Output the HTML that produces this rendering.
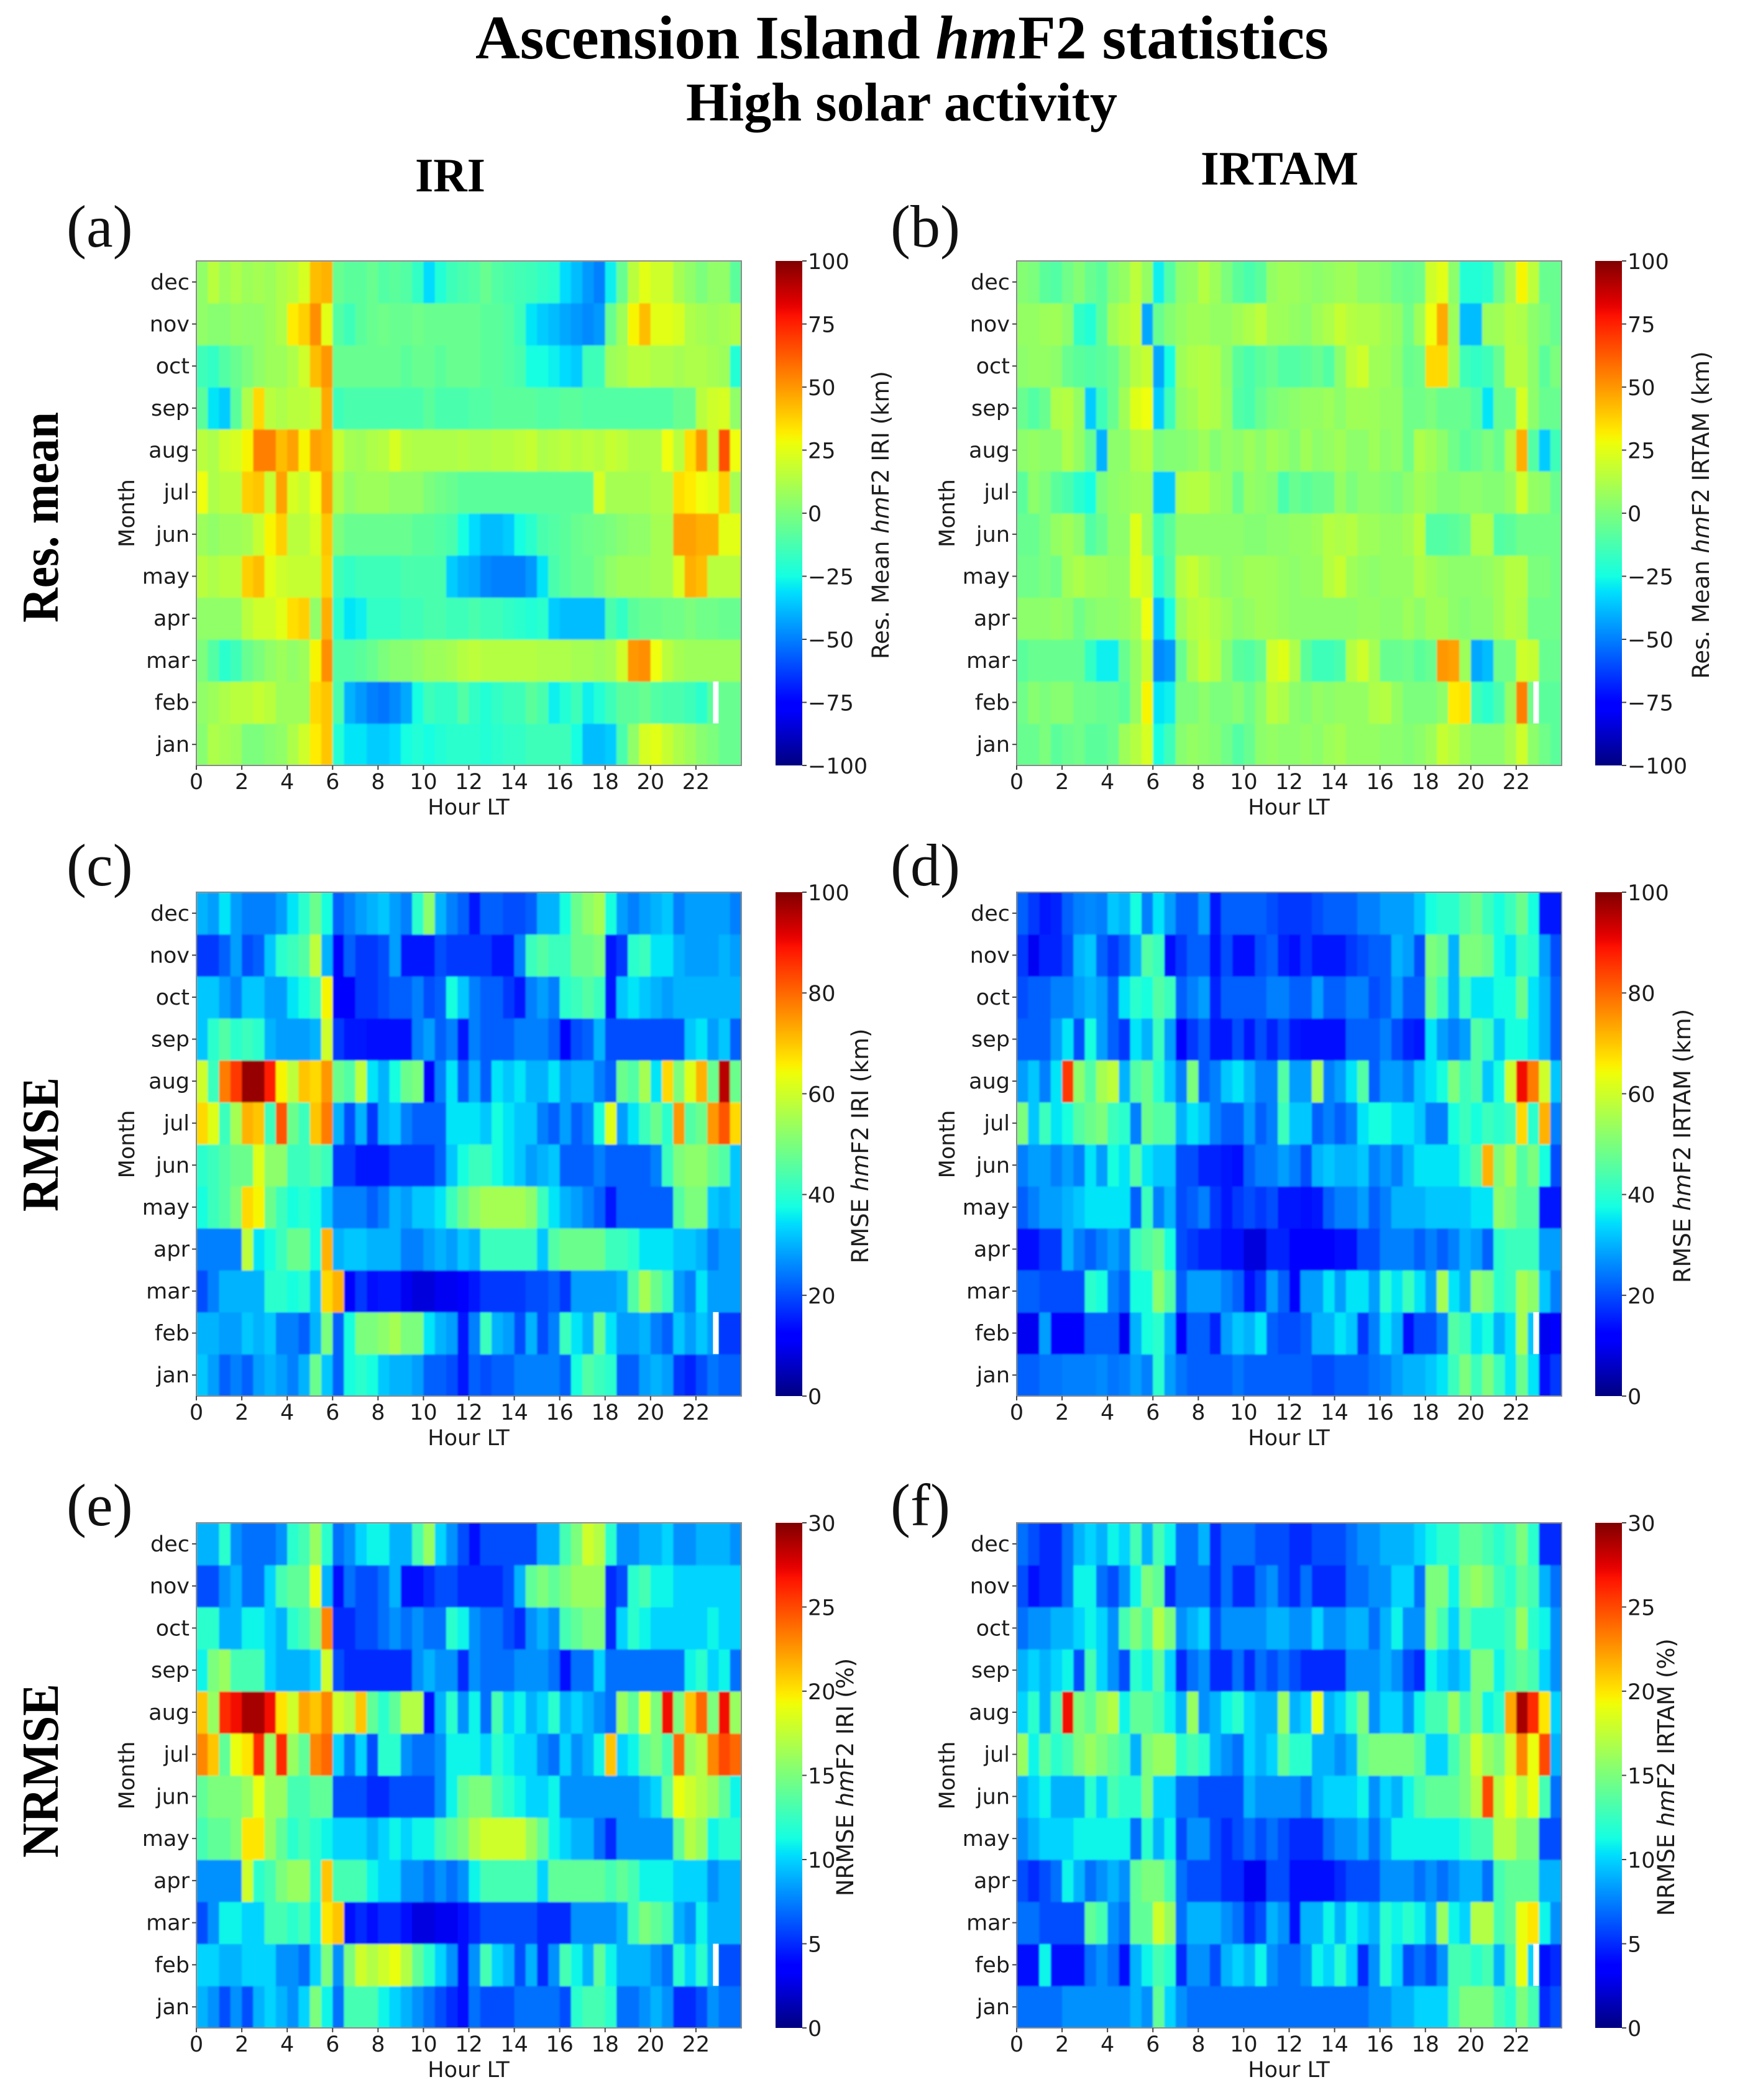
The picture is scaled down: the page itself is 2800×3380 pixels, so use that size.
<!DOCTYPE html>
<html lang="en">
<head>
<meta charset="utf-8">
<title>Ascension Island hmF2 statistics</title>
<style>
html,body{margin:0;padding:0;background:#fff;}
#figure{display:block;width:2800px;height:3380px;}
.ttl{font-family:"Liberation Serif",serif;font-weight:bold;fill:#000;}
.tick{font-family:"DejaVu Sans",sans-serif;font-size:35px;fill:#1c1c1c;}
.plabel{font-family:"Liberation Serif",serif;font-size:96px;fill:#111;}
</style>
</head>
<body>
<svg id="figure" xmlns="http://www.w3.org/2000/svg" width="2800" height="3380" viewBox="0 0 2800 3380">
<rect x="0" y="0" width="2800" height="3380" fill="#fff"/>
<text class="ttl" x="765" y="94" font-size="100" textLength="1373" lengthAdjust="spacingAndGlyphs">Ascension Island <tspan font-style="italic">hm</tspan>F2 statistics</text>
<text class="ttl" x="1104" y="194" font-size="88" textLength="694" lengthAdjust="spacingAndGlyphs">High solar activity</text>
<text class="ttl" x="668" y="308" font-size="77" textLength="113" lengthAdjust="spacingAndGlyphs">IRI</text>
<text class="ttl" x="1932" y="297" font-size="77" textLength="254" lengthAdjust="spacingAndGlyphs">IRTAM</text>
<text class="ttl" transform="translate(93,1002) rotate(-90)" font-size="84" textLength="339" lengthAdjust="spacingAndGlyphs">Res. mean</text>
<text class="ttl" transform="translate(93,1950) rotate(-90)" font-size="84" textLength="216" lengthAdjust="spacingAndGlyphs">RMSE</text>
<text class="ttl" transform="translate(93,2990) rotate(-90)" font-size="84" textLength="280" lengthAdjust="spacingAndGlyphs">NRMSE</text>
<g id="plots"></g>
</svg>
<script>
// Shared axis data
const monthLabels = ['jan','feb','mar','apr','may','jun','jul','aug','sep','oct','nov','dec'];
const hourTicks = [0,2,4,6,8,10,12,14,16,18,20,22];
const resMeanTicks = [-100,-75,-50,-25,0,25,50,75,100];
const rmseTicks = [0,20,40,60,80,100];
const nrmseTicks = [0,5,10,15,20,25,30];
const hoursPerBin = 0.5;
const missingMonth = 'feb';
const missingHour = 22.75;
const missingWidthHours = 0.25;

// Values per month (jan..dec), 48 half-hour bins
const panelAValues = [
[3,12,10,8,0,0, 3,5,12,20,32,40, -22,-30,-30,-35,-35,-32, -25,-22,-25,-22,-20,-20, -20,-22,-20,-18,-18,-15, -15,-15,-15,-25,-38,-38, -35,-12,5,22,25,18, 12,8,3,0,-5,-5],
[5,8,12,15,15,18, 15,8,8,8,36,40, -12,-40,-45,-50,-52,-48, -42,-25,-15,-18,-18,-10, -18,-22,-18,-15,-15,-8, -12,-28,-22,-15,-28,-22, -15,-8,-8,-5,-10,-12, -12,-15,-20,-8,-5,-5],
[0,-10,-20,-15,-5,0, 5,8,5,8,30,52, -10,-10,-8,-5,0,3, 3,5,8,8,10,14, 16,14,14,14,14,14, 12,12,12,10,10,8, 10,20,50,52,28,15, 10,8,8,8,8,8],
[5,5,5,5,15,20, 20,25,35,38,5,45, -20,-30,-28,-18,-18,-18, -15,-15,-12,-12,-15,-15, -12,-15,-15,-18,-20,-22, -20,-35,-38,-38,-38,-38, -12,-18,-8,-5,-5,-3, -3,0,-3,-3,-5,-5],
[15,12,15,15,38,42, 25,20,18,18,18,38, -15,-18,-15,-15,-15,-15, -12,-12,-12,-12,-35,-40, -42,-48,-50,-50,-50,-45, -30,-12,-8,-5,-5,0, 5,8,8,8,10,10, 22,45,42,15,15,15],
[8,5,8,8,10,18, 30,38,15,15,22,40, 0,-5,-5,-5,-5,-5, -5,-8,-8,-10,-12,-25, -32,-38,-38,-35,-25,-20, -12,-10,-8,-5,-3,-2, 0,3,5,5,10,10, 48,48,45,45,25,25],
[28,12,15,15,38,40, 18,48,22,18,28,48, 12,5,8,8,8,5, 5,5,0,-3,-5,-8, -8,-8,-8,-8,-8,-8, -8,-8,-8,-8,-8,22, 10,10,10,10,12,12, 35,32,28,25,38,10],
[15,12,20,22,30,55, 55,42,48,30,48,45, 18,10,9,12,14,22, 14,12,12,12,12,14, 12,12,14,14,16,18, 12,14,16,14,16,14, 18,16,12,12,12,28, 15,35,50,18,65,28],
[-8,-30,-35,-8,12,36, 15,12,15,15,18,46, -15,-12,-12,-12,-12,-12, -12,-12,-8,-12,-12,-12, -10,-10,-8,-8,-8,-8, -10,-10,-8,-8,-10,-10, -10,-10,-10,-10,-10,-10, -5,-5,15,20,22,5],
[-15,-18,-10,-5,0,5, 8,8,12,20,42,50, -5,-5,-5,-5,-5,-5, -8,-5,-5,-8,-5,-5, -5,-8,-8,-10,-12,-25, -25,-28,-32,-35,-15,-15, 8,10,15,15,12,12, 10,12,12,10,8,-22],
[5,3,3,6,5,5, 8,12,32,38,52,25, -10,-15,-8,-5,-3,-5, -5,-3,-5,-5,-5,-5, -5,-8,-8,-10,-15,-30, -35,-38,-42,-45,-48,-45, -5,8,30,42,25,25, 22,12,10,8,10,12],
[5,15,8,12,8,10, 8,12,15,22,42,44, -5,-8,-8,-5,-10,-8, -10,-18,-32,-22,-15,-12, -10,-5,-10,-12,-14,-15, -18,-20,-32,-38,-45,-50, -28,-5,15,25,20,20, 10,5,0,5,5,-8]
];
const panelBValues = [
[-5,-5,0,-8,-5,-3, -8,-8,-5,8,14,22, -25,-15,3,6,4,2, -3,-10,-5,4,6,4, 4,6,4,8,10,6, 6,6,4,4,2,4, 8,18,14,8,4,4, 4,10,20,4,-3,-8],
[-3,3,0,3,3,-3, -3,-5,-5,-8,6,30, -30,-28,0,0,4,0, 0,3,-3,4,15,12, 4,2,6,4,6,6, 6,12,14,6,0,0, 0,4,32,34,-15,-20, -12,6,55,-3,-8,-8],
[-8,-5,-5,-5,-5,-5, -18,-28,-28,-5,6,18, -48,-45,-5,10,18,14, 2,-8,-10,-5,20,24, 12,-8,-15,-15,-12,14, 20,10,-5,-5,-3,-8, -5,50,48,8,-42,-38, -3,-3,20,18,-5,-5],
[4,4,4,6,4,-3, 2,4,4,6,10,28, -38,-25,8,14,16,12, 9,4,6,9,8,6, 4,4,4,4,4,4, 6,6,4,4,8,4, 9,9,4,2,4,4, 9,14,12,-3,-3,-3],
[-3,-3,0,-3,9,12, 9,8,6,6,24,20, -20,-10,14,18,12,8, 4,6,9,9,8,6, 4,6,6,14,18,9, 6,4,6,6,6,12, 9,6,4,4,4,6, 9,14,14,0,0,-3],
[-5,-5,0,6,9,4, -10,-5,4,4,24,8, -15,-8,4,4,4,4, 4,4,2,2,4,4, 6,6,8,14,12,14, 9,8,6,6,9,15, -10,-10,-8,-5,12,12, -10,-8,-3,-3,-3,-3],
[-8,4,0,-8,-12,-20, -25,0,4,6,8,9, -35,-35,12,14,14,8, 6,-5,6,4,2,-12, -5,-8,-5,-5,6,0, 4,4,2,0,4,9, 6,2,2,4,4,2, 2,6,20,6,4,-5],
[4,6,4,4,12,6, -5,-40,4,4,12,14, 0,2,2,4,8,2, 6,4,8,4,9,6, 2,9,4,6,9,4, 4,8,4,6,-3,12, 9,4,-3,-8,-5,0, -5,12,45,-10,-35,-15],
[-5,-10,-5,12,14,6, -35,-15,-5,9,24,28, -35,-15,6,9,14,12, 6,-10,-12,-5,0,2, 4,6,6,8,4,9, 9,8,6,6,-3,-3, 0,-5,-5,-5,-10,-30, -5,-5,22,4,-5,-5],
[4,6,6,4,-5,-8, -10,-8,-5,4,14,18, -42,-25,9,12,14,12, 4,-8,-12,-8,-5,-10, -10,-8,-5,-10,4,16, 20,9,8,4,-5,-3, 36,36,9,-15,-18,-15, -5,14,14,4,-8,0],
[6,6,8,9,4,-18, -22,-8,9,14,18,-42, -5,2,6,9,9,6, 6,9,12,16,9,8, 6,4,9,12,18,14, 12,12,9,6,-3,9, 28,46,8,-38,-38,8, 9,14,12,4,0,-5],
[2,0,-8,-10,-3,2, -5,-8,2,6,16,6, -28,-10,4,6,14,8, 0,-8,-12,-8,6,9, 8,6,4,6,8,9, 4,4,2,-3,-5,-3, 20,25,4,-22,-22,-20, -5,9,30,16,-5,-5]
];
const panelCValues = [
[32,28,22,25,22,28, 30,28,25,30,48,32, 22,38,40,38,32,30, 30,28,22,22,20,15, 22,20,22,22,25,25, 25,25,22,38,45,42, 40,22,22,28,30,28, 18,16,20,24,22,22],
[30,30,28,28,32,30, 32,25,25,22,30,50, 22,38,50,50,52,55, 50,50,35,30,28,15, 25,42,30,28,20,30, 20,25,42,35,30,48, 35,28,28,30,25,22, 32,28,32,28,18,18],
[20,25,30,30,30,30, 40,40,38,40,32,68, 72,12,18,14,15,15, 10,8,8,10,10,12, 15,18,18,18,18,20, 20,22,18,28,28,28, 28,30,45,55,48,42, 28,25,35,28,28,28],
[25,25,25,25,58,35, 38,42,48,48,38,72, 30,32,32,30,30,30, 25,25,28,30,28,32, 30,42,42,42,42,42, 32,45,48,48,48,48, 42,42,40,35,35,35, 32,32,30,25,28,28],
[38,42,45,50,68,65, 48,42,38,40,38,32, 25,25,25,22,25,30, 28,32,32,35,42,48, 52,55,55,55,55,52, 42,35,30,28,25,22, 15,22,22,22,22,22, 45,50,50,32,30,32],
[40,42,45,48,48,62, 52,52,42,42,45,42, 18,18,15,15,15,18, 18,18,18,22,32,38, 42,42,38,35,32,28, 30,32,22,22,22,25, 22,22,22,22,25,42, 50,52,52,48,45,32],
[68,62,42,55,72,70, 42,82,48,42,70,78, 30,20,30,18,30,32, 25,22,22,22,35,35, 35,32,38,35,32,32, 25,22,28,22,25,38, 62,28,35,42,48,40, 75,45,48,75,82,68],
[60,42,78,85,98,98, 88,65,58,70,68,75, 48,45,58,35,30,38, 48,50,12,25,35,22, 30,22,35,32,35,30, 30,35,28,30,30,25, 22,48,45,55,35,68, 50,62,72,48,95,48],
[32,40,45,40,42,40, 30,28,28,28,30,60, 18,15,15,14,14,14, 14,25,28,22,25,15, 25,22,22,22,25,25, 25,22,12,20,22,30, 20,20,20,20,20,20, 20,32,35,28,32,22],
[32,32,28,25,32,32, 28,28,35,38,42,65, 12,12,18,18,20,22, 22,25,20,22,38,32, 25,22,22,18,15,25, 28,25,40,42,45,42, 15,32,35,32,30,28, 30,30,30,30,30,30],
[18,18,22,28,20,22, 32,40,42,45,58,30, 12,22,18,18,20,28, 15,15,15,20,18,18, 18,18,15,15,25,42, 45,42,42,48,48,50, 15,18,40,42,35,35, 30,28,28,28,30,28],
[30,28,35,28,25,25, 25,28,35,40,48,38, 22,25,28,30,32,28, 25,40,52,30,25,22, 15,22,22,20,20,22, 30,30,38,48,52,55, 38,28,25,28,30,32, 25,28,28,28,28,25]
];
const panelDValues = [
[22,22,24,24,25,25, 25,26,24,25,28,25, 40,28,24,22,22,22, 22,24,22,22,22,22, 22,22,20,20,22,22, 22,24,25,28,30,30, 32,35,42,50,42,50, 42,35,48,35,14,18],
[10,10,28,12,12,12, 22,22,22,10,30,38, 40,30,12,22,22,16, 28,32,30,35,22,20, 20,22,30,30,35,32, 18,25,35,30,14,20, 20,25,45,42,35,38, 30,35,55,32,10,12],
[22,22,20,20,20,20, 40,38,25,22,38,38, 52,45,22,28,28,28, 25,22,14,18,28,22, 12,28,28,35,28,35, 35,28,40,35,42,35, 28,55,35,30,52,50, 40,42,55,52,32,25],
[14,14,18,18,30,25, 22,25,28,25,42,45, 48,38,20,18,16,16, 14,14,8,8,16,16, 12,12,12,12,14,14, 20,20,25,25,25,22, 25,22,25,30,28,22, 40,42,42,42,28,28],
[22,25,28,28,30,32, 35,35,35,35,22,42, 25,30,20,22,25,18, 15,18,20,18,20,15, 15,14,15,22,25,25, 28,22,25,30,30,30, 32,32,32,32,35,35, 52,50,45,45,15,15],
[25,28,28,25,28,25, 35,28,38,35,45,35, 32,32,20,20,16,16, 15,14,22,25,25,28, 25,20,30,32,30,30, 32,25,28,25,30,35, 35,35,35,40,45,72, 50,55,45,50,38,20],
[50,32,42,35,38,45, 48,50,42,40,25,48, 45,45,30,35,32,25, 22,22,28,22,25,42, 32,32,22,25,22,25, 35,38,38,35,35,32, 25,25,38,42,38,42, 40,42,68,40,72,25],
[28,32,25,35,85,52, 45,55,58,30,45,48, 40,32,25,50,22,25, 32,35,30,25,25,45, 28,28,55,25,28,35, 45,22,28,28,25,32, 35,38,50,42,45,32, 38,60,90,78,60,32],
[22,22,22,28,35,20, 38,28,22,18,35,30, 42,28,12,18,22,15, 15,20,15,20,16,20, 15,14,14,14,14,22, 22,22,25,20,16,15, 35,28,25,28,45,42, 32,38,38,35,30,22],
[20,22,22,25,25,28, 30,28,22,35,40,38, 45,42,22,25,28,16, 22,22,22,22,25,25, 22,22,28,22,22,25, 25,20,22,28,22,22, 48,42,30,42,35,35, 38,38,48,35,30,22],
[18,10,16,16,20,30, 32,22,18,22,30,45, 42,14,18,22,22,14, 20,14,14,20,22,16, 14,18,15,15,15,18, 20,22,22,30,28,20, 50,48,30,50,50,48, 38,35,42,40,28,20],
[22,18,15,16,22,25, 26,25,32,30,38,25, 35,28,22,22,28,15, 22,22,22,22,20,18, 18,18,20,22,22,22, 25,25,28,28,28,32, 38,40,40,45,48,42, 38,42,48,38,15,15]
];
const panelEValues = [
[9,8,6,8,6,9, 10,9,8,10,15,11, 7,13,13,13,11,10, 9,8,7,6,5,4, 7,6,6,6,7,7, 7,7,6,12,13,13, 12,7,7,8,9,8, 5,5,6,8,7,7],
[10,10,9,9,10,10, 10,8,8,7,10,15, 8,15,18,17,18,19, 17,14,12,10,8,4, 8,13,10,9,6,9, 5,8,13,11,9,14, 11,9,9,9,8,7, 12,10,12,9,6,6],
[6,8,11,11,10,10, 13,13,12,13,11,20, 21,4,5,4,5,5, 4,2.5,2.5,3,3,4, 5,6,6,6,6,6, 5,5,5,8,8,8, 8,9,13,15,14,13, 9,8,11,9,9,9],
[8,8,8,8,18,12, 13,15,16,16,12,21, 13,13,13,11,10,10, 8,8,7,8,7,8, 11,13,13,13,13,13, 10,14,14,14,14,14, 13,14,13,11,11,11, 10,10,10,8,9,9],
[13,14,14,15,20,20, 16,14,12,13,12,11, 10,10,10,9,10,11, 10,11,11,13,14,15, 17,18,18,18,18,16, 14,11,10,9,9,7, 5,8,8,8,8,8, 14,17,16,11,12,12],
[14,15,15,15,16,19, 16,16,13,13,14,14, 6,6,6,5,5,6, 6,6,6,8,11,14, 15,15,13,12,11,10, 10,11,8,8,8,8, 8,8,8,9,10,14, 19,18,17,16,14,11],
[23,21,14,19,20,26, 16,26,16,14,23,24, 10,7,10,6,12,12, 8,7,7,8,11,11, 11,10,12,11,10,10, 8,7,10,8,9,11, 21,10,11,14,15,13, 24,16,17,23,25,24],
[21,16,26,27,29,29, 27,20,18,22,21,23, 18,17,21,14,12,14, 17,17,4,9,12,8, 11,7,13,10,11,9, 10,12,9,10,9,8, 7,16,14,19,15,27, 15,21,24,15,27,16],
[11,15,16,13,13,13, 10,9,9,9,10,18, 6,5,5,5,5,5, 5,8,9,8,8,5, 8,7,7,7,8,8, 8,7,4,7,7,10, 7,7,7,7,7,7, 7,11,12,10,11,7],
[12,12,9,9,11,11, 10,9,12,13,15,23, 5,5,6,6,7,8, 7,8,7,7,12,11, 8,7,7,6,5,8, 9,8,13,14,15,15, 5,10,12,11,10,10, 10,10,10,11,10,10],
[6,6,8,9,7,7, 10,13,14,14,19,9, 4,7,6,6,7,9, 4,4,5,6,6,5, 5,5,5,6,9,14, 15,14,15,16,16,16, 5,6,12,13,11,11, 10,10,10,10,10,10],
[9,9,12,8,7,7, 7,8,12,13,16,12, 7,8,10,11,11,9, 9,13,16,10,8,6, 4,6,6,6,6,6, 9,9,13,15,18,17, 12,8,8,9,9,10, 8,8,9,9,9,8]
];
const panelFValues = [
[7,7,7,7,8,8, 8,8,8,8,9,8, 14,10,8,7,7,7, 7,7,7,7,7,7, 7,7,7,7,7,7, 7,8,8,9,9,10, 10,10,13,15,15,15, 13,12,15,13,5,6],
[4,4,11,4,4,4, 7,8,7,4,9,11, 13,12,5,8,8,6, 9,10,9,11,8,7, 7,8,11,10,12,10, 5,8,12,10,6,7, 6,8,13,13,12,13, 9,13,19,10,4,5],
[7,7,6,6,6,6, 14,13,8,7,14,14, 18,16,7,9,9,9, 8,7,5,6,9,8, 4,9,9,11,9,11, 10,9,12,11,12,11, 9,16,11,10,17,17, 13,14,19,20,11,8],
[6,5,6,7,11,9, 7,8,9,8,14,15, 15,13,7,6,6,6, 5,5,3,3,6,6, 4,4,4,4,5,6, 6,6,8,8,8,7, 8,7,8,9,9,7, 13,14,14,14,9,9],
[8,9,10,10,10,11, 11,11,11,11,7,12, 9,11,6,8,8,6, 5,6,7,6,7,6, 5,5,5,7,8,8, 9,7,9,11,11,11, 11,11,11,12,13,13, 17,17,15,15,6,6],
[9,10,11,9,9,9, 12,10,13,12,12,15, 10,10,7,7,6,6, 6,6,9,8,8,8, 8,7,9,10,10,10, 11,8,10,9,11,13, 14,14,14,15,17,25, 17,19,17,19,13,7],
[16,11,14,12,13,15, 16,15,14,13,9,15, 16,16,12,13,12,9, 8,7,10,9,10,14, 12,12,9,9,8,9, 14,15,15,15,15,14, 10,10,13,15,18,16, 15,18,23,19,25,9],
[10,12,9,13,27,15, 14,16,17,11,14,14, 13,11,9,16,8,9, 11,12,10,9,9,16, 9,10,19,9,10,12, 15,8,10,10,8,11, 13,13,16,13,15,11, 12,22,29,26,20,10],
[9,10,9,10,11,6, 13,10,8,6,12,11, 14,10,5,7,8,5, 5,7,5,7,6,7, 6,5,5,5,5,8, 8,8,9,8,6,5, 11,10,9,10,15,15, 11,13,14,13,10,8],
[7,8,8,9,9,10, 11,10,8,13,15,13, 17,15,8,9,10,6, 8,8,8,8,9,9, 8,8,10,8,8,9, 9,7,9,11,8,8, 15,13,10,14,12,12, 12,13,16,12,11,8],
[6,4,5,5,7,11, 11,7,6,8,11,15, 14,5,7,7,7,5, 7,5,5,7,8,6, 5,7,5,5,5,7, 7,8,8,10,10,7, 15,15,11,15,16,15, 13,12,14,13,9,7],
[7,6,5,5,7,9, 10,9,11,10,13,9, 13,11,7,7,9,5, 7,7,7,6,6,6, 5,5,6,6,6,7, 8,8,9,9,9,10, 11,12,12,14,14,13, 12,13,15,12,5,5]
];

const NS = 'http://www.w3.org/2000/svg';
const root = document.getElementById('plots');

function svgEl(tag, attrs, parent) {
  const el = document.createElementNS(NS, tag);
  for (const k in attrs) el.setAttribute(k, attrs[k]);
  parent.appendChild(el);
  return el;
}
function lerpSeg(seg, t) {
  for (let i = 1; i < seg.length; i++) {
    if (t <= seg[i][0]) {
      const a = seg[i - 1], b = seg[i];
      return a[1] + (b[1] - a[1]) * (t - a[0]) / (b[0] - a[0]);
    }
  }
  return seg[seg.length - 1][1];
}
const jetR = [[0,0],[0.35,0],[0.66,1],[0.89,1],[1,0.5]];
const jetG = [[0,0],[0.125,0],[0.375,1],[0.64,1],[0.91,0],[1,0]];
const jetB = [[0,0.5],[0.11,1],[0.34,1],[0.65,0],[1,0]];
function jet(t) {
  t = Math.max(0, Math.min(1, t));
  const c = s => Math.round(255 * lerpSeg(s, t));
  return 'rgb(' + c(jetR) + ',' + c(jetG) + ',' + c(jetB) + ')';
}

const defs = svgEl('defs', {}, root);
const grad = svgEl('linearGradient', {id: 'jet-gradient', x1: 0, y1: 1, x2: 0, y2: 0}, defs);
for (let i = 0; i <= 64; i++) {
  svgEl('stop', {offset: i / 64, 'stop-color': jet(i / 64)}, grad);
}
const softFilter = svgEl('filter', {id: 'soft', x: '-1%', y: '-1%', width: '102%', height: '102%'}, defs);
svgEl('feGaussianBlur', {stdDeviation: 1.3}, softFilter);

function drawPanel(p) {
  const g = svgEl('g', {}, root);
  
  

  const xScale = h => p.x + h * p.w / 24;
  const yScale = i => p.y + p.h - i * p.h / monthLabels.length;
  const colorScale = v => jet((v - p.vmin) / (p.vmax - p.vmin));
  const cbarScale = v => p.y + p.h - (v - p.vmin) / (p.vmax - p.vmin) * p.h;

  const clip = svgEl('clipPath', {id: 'clip-' + p.id}, defs);
  svgEl('rect', {x: p.x, y: p.y, width: p.w, height: p.h}, clip);
  const clipG = svgEl('g', {'clip-path': 'url(#clip-' + p.id + ')'}, g);
  const cells = svgEl('g', {filter: 'url(#soft)'}, clipG);
  
  

  p.values.forEach((row, mi) => {
    row.forEach((v, bi) => {
      const x0 = xScale(bi * hoursPerBin), x1 = xScale((bi + 1) * hoursPerBin);
      const cell = svgEl('rect', {x: x0, y: yScale(mi + 1), width: x1 - x0 + 0.6, height: p.h / monthLabels.length + 0.6, fill: colorScale(v)}, cells);
      
      
    });
  });
  const mIdx = monthLabels.indexOf(missingMonth);
  const gap = svgEl('rect', {x: xScale(missingHour), y: yScale(mIdx + 1), width: xScale(missingHour + missingWidthHours) - xScale(missingHour), height: p.h / monthLabels.length, fill: '#fff'}, clipG);
  
  

  const frame = svgEl('rect', {x: p.x, y: p.y, width: p.w, height: p.h, fill: 'none', stroke: '#8a8a8a', 'stroke-width': 2}, g);
  
  

  hourTicks.forEach(h => {
    const tm = svgEl('line', {x1: xScale(h), x2: xScale(h), y1: p.y + p.h, y2: p.y + p.h + 7, stroke: '#444', 'stroke-width': 2}, g);
    
    
    const tl = svgEl('text', {x: xScale(h), y: p.y + p.h + 38, 'text-anchor': 'middle', class: 'tick'}, g);
    
    
    tl.textContent = h;
  });
  monthLabels.forEach((m, i) => {
    const yc = yScale(i + 0.5);
    const tm = svgEl('line', {x1: p.x - 7, x2: p.x, y1: yc, y2: yc, stroke: '#444', 'stroke-width': 2}, g);
    
    
    const tl = svgEl('text', {x: p.x - 11, y: yc + 12, 'text-anchor': 'end', class: 'tick'}, g);
    
    
    tl.textContent = m;
  });

  const xt = svgEl('text', {x: p.x + 438, y: p.y + p.h + 79, 'text-anchor': 'middle', class: 'tick'}, g);
  
  
  xt.textContent = 'Hour LT';

  const yt = svgEl('text', {transform: 'translate(' + (p.x - 100) + ',' + (p.y + p.h / 2) + ') rotate(-90)', 'text-anchor': 'middle', class: 'tick'}, g);
  
  
  yt.textContent = 'Month';

  const bar = svgEl('rect', {x: p.cx, y: p.y, width: 43, height: p.h, fill: 'url(#jet-gradient)'}, g);
  
  

  p.ticks.forEach(v => {
    const yy = cbarScale(v);
    const tm = svgEl('line', {x1: p.cx + 43, x2: p.cx + 50, y1: yy, y2: yy, stroke: '#444', 'stroke-width': 2}, g);
    
    
    const tl = svgEl('text', {x: p.cx + 52, y: yy + 13, class: 'tick'}, g);
    
    
    tl.textContent = String(v).replace('-', '\u2212');
  });

  const ct = svgEl('text', {transform: 'translate(' + p.tx + ',' + (p.y + p.h / 2 + 3) + ') rotate(-90)', 'text-anchor': 'middle', class: 'tick', style: 'font-size:37px'}, g);
  
  
  svgEl('tspan', {}, ct).textContent = p.t1 + ' ';
  svgEl('tspan', {'font-style': 'italic'}, ct).textContent = 'hm';
  svgEl('tspan', {}, ct).textContent = 'F2 ' + p.t2;

  const pl = svgEl('text', {x: p.lx, y: p.ly, class: 'plabel'}, g);
  
  
  pl.textContent = '(' + p.id + ')';
}

drawPanel({id:'a',x:316,y:420,w:877,h:812,cx:1248,vmin:-100,vmax:100,ticks:resMeanTicks,values:panelAValues,t1:'Res. Mean',t2:'IRI (km)',tx:1430,lx:107,ly:397});
drawPanel({id:'b',x:1636,y:420,w:877,h:812,cx:2567,vmin:-100,vmax:100,ticks:resMeanTicks,values:panelBValues,t1:'Res. Mean',t2:'IRTAM (km)',tx:2750,lx:1433,ly:397});
drawPanel({id:'c',x:316,y:1436,w:877,h:811,cx:1248,vmin:0,vmax:100,ticks:rmseTicks,values:panelCValues,t1:'RMSE',t2:'IRI (km)',tx:1397,lx:107,ly:1425});
drawPanel({id:'d',x:1636,y:1436,w:877,h:811,cx:2567,vmin:0,vmax:100,ticks:rmseTicks,values:panelDValues,t1:'RMSE',t2:'IRTAM (km)',tx:2720,lx:1433,ly:1425});
drawPanel({id:'e',x:316,y:2451,w:877,h:813,cx:1248,vmin:0,vmax:30,ticks:nrmseTicks,values:panelEValues,t1:'NRMSE',t2:'IRI (%)',tx:1373,lx:107,ly:2455});
drawPanel({id:'f',x:1636,y:2451,w:877,h:813,cx:2567,vmin:0,vmax:30,ticks:nrmseTicks,values:panelFValues,t1:'NRMSE',t2:'IRTAM (%)',tx:2694,lx:1433,ly:2455});
</script>
</body>
</html>
